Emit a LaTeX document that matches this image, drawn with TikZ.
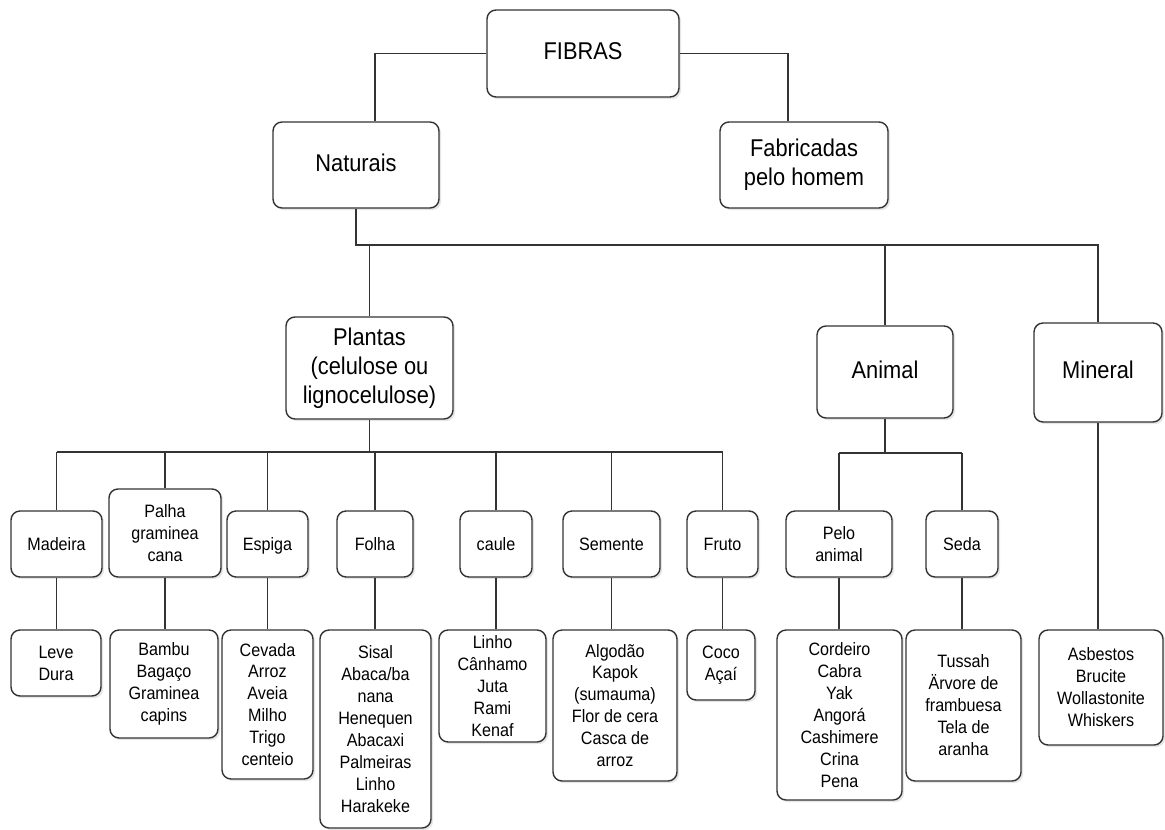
\documentclass[tikz,border=0pt]{standalone}
\usepackage{fontspec}
\setmainfont{Liberation Sans}[FakeStretch=0.9]
\usetikzlibrary{shadows}
\begin{document}
\begin{tikzpicture}[x=0.02cm,y=-0.02cm,
  box/.style={draw=black!80, line width=0.8pt, rounded corners=0.18cm, fill=white, align=center, inner sep=0pt,
    drop shadow={shadow xshift=1.2pt, shadow yshift=-1.2pt, opacity=0.2}},
  big/.style={box, font=\fontsize{13.8pt}{16.5pt}\selectfont},
  small/.style={box, font=\fontsize{10.2pt}{12.5pt}\selectfont},
  oneline/.style={text height=0.72em, text depth=0pt},
  sz/.style 2 args={minimum width={#1*0.02cm}, minimum height={#2*0.02cm}},
  conn/.style={draw=black!80, line width=0.75pt}]
\useasboundingbox (0,0) rectangle (1165,829);
% level 0-2
\node[big, oneline, sz={192}{87}] (fibras) at (583,53.5) {FIBRAS};
\node[big, oneline, sz={166}{86}] (naturais) at (356,165) {Naturais};
\node[big, sz={168}{86}] (fabricadas) at (804,165) {Fabricadas\\pelo homem};
\node[big, sz={167}{102}] (plantas) at (369.5,368) {Plantas\\(celulose ou\\lignocelulose)};
\node[big, oneline, sz={136}{92}] (animal) at (885,372) {Animal};
\node[big, oneline, sz={128}{99}] (mineral) at (1098,372.5) {Mineral};
% level 3
\node[small, oneline, sz={91}{66}] (madeira) at (56.5,544) {Madeira};
\node[small, sz={112}{88}] (palha) at (165,533) {Palha\\graminea\\cana};
\node[small, oneline, sz={81}{66}] (espiga) at (267.5,544) {Espiga};
\node[small, oneline, sz={76}{66}] (folha) at (375,544) {Folha};
\node[small, oneline, sz={72}{66}] (caule) at (496,544) {caule};
\node[small, oneline, sz={97}{66}] (semente) at (611.5,544) {Semente};
\node[small, oneline, sz={71}{66}] (fruto) at (722.5,544) {Fruto};
\node[small, sz={106}{66}] (pelo) at (839,544) {Pelo\\animal};
\node[small, oneline, sz={72}{66}] (seda) at (962,544) {Seda};
% level 4
\node[small, sz={90}{66}] (leve) at (56,663) {Leve\\Dura};
\node[small, sz={108}{108}] (bambu) at (164,684) {Bambu\\Bagaço\\Graminea\\capins};
\node[small, sz={91}{149}] (cevada) at (267.5,704.5) {Cevada\\Arroz\\Aveia\\Milho\\Trigo\\centeio};
\node[small, sz={111}{198}] (sisal) at (375.5,729) {Sisal\\Abaca/ba\\nana\\Henequen\\Abacaxi\\Palmeiras\\Linho\\Harakeke};
\node[small, sz={107}{112}] (linho) at (492.5,686) {Linho\\Cânhamo\\Juta\\Rami\\Kenaf};
\node[small, sz={124}{151}] (algodao) at (615,705.5) {Algodão\\Kapok\\(sumauma)\\Flor de cera\\Casca de\\arroz};
\node[small, sz={68}{70}] (coco) at (721,665) {Coco\\Açaí};
\node[small, sz={125}{170}] (cordeiro) at (839.5,715) {Cordeiro\\Cabra\\Yak\\Angorá\\Cashimere\\Crina\\Pena};
\node[small, sz={115}{151}] (tussah) at (963.5,705.5) {Tussah\\Ärvore de\\frambuesa\\Tela de\\aranha};
\node[small, sz={124}{115}] (asbestos) at (1101,687.5) {Asbestos\\Brucite\\Wollastonite\\Whiskers};
% buses
\coordinate (nbus) at (0,245);
\coordinate (pbus) at (0,452);
\coordinate (abus) at (0,453);
% connectors
\draw[conn] (fibras.west) -| ([xshift=0.38cm]naturais.north);
\draw[conn] (fibras.east) -| ([xshift=-0.32cm]fabricadas.north);
\draw[conn] (naturais.south) |- (mineral.north |- nbus) -- (mineral.north);
\draw[conn] (plantas.north) -- (plantas.north |- nbus);
\draw[conn] (animal.north) -- (animal.north |- nbus);
\draw[conn] (plantas.south) -- (plantas.south |- pbus);
\draw[conn] (madeira.north |- pbus) -- (fruto.north |- pbus);
\foreach \n in {madeira,palha,espiga,folha,caule,semente,fruto}
  \draw[conn] (\n.north) -- (\n.north |- pbus);
\draw[conn] (animal.south) -- (animal.south |- abus);
\draw[conn] (pelo.north |- abus) -- (seda.north |- abus);
\foreach \n in {pelo,seda}
  \draw[conn] (\n.north) -- (\n.north |- abus);
\foreach \a/\b in {madeira/leve,palha/bambu,espiga/cevada,folha/sisal,caule/linho,semente/algodao,fruto/coco,pelo/cordeiro,seda/tussah,mineral/asbestos}
  \draw[conn] (\a.south) -- (\a.south |- \b.north);
\end{tikzpicture}
\end{document}
